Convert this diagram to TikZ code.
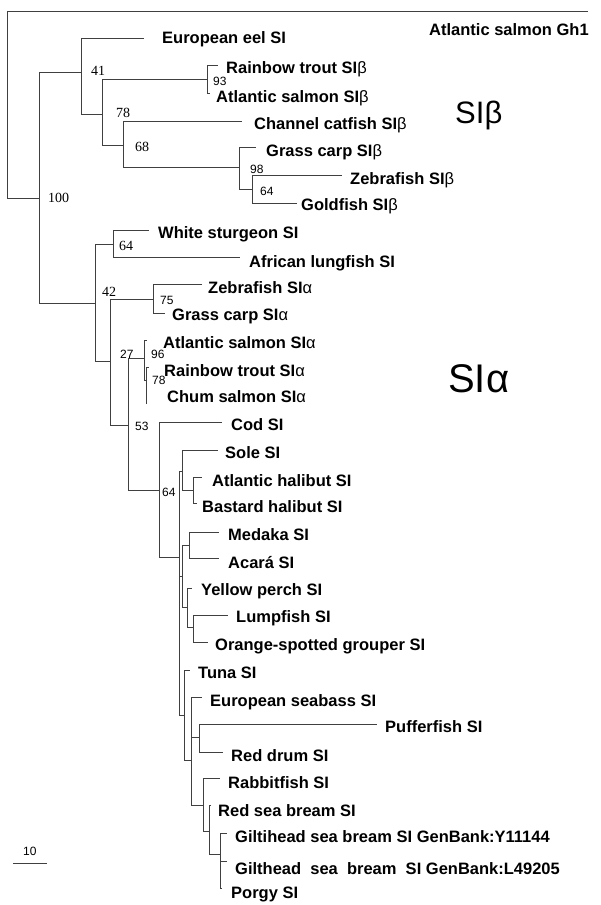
\documentclass[tikz,border=0pt]{standalone}
\usepackage{fontspec}
\setmainfont{Liberation Serif}
\setsansfont{Liberation Sans}
\newcommand{\grb}{{\mdseries β}}
\newcommand{\gra}{{\mdseries α}}
\tikzset{
  edge/.style={line width=.9pt, draw=black!75},
  leaf/.style={anchor=west, inner sep=0pt, text height=11.8pt, text depth=0pt,
    font=\sffamily\bfseries\fontsize{16.5}{16.5}\selectfont},
  bootrm/.style={anchor=west, inner sep=0pt, text height=9.5pt, text depth=0pt,
    font=\rmfamily\fontsize{14}{14}\selectfont},
  bootsf/.style={anchor=west, inner sep=0pt, text height=8.6pt, text depth=0pt,
    font=\sffamily\fontsize{12}{12}\selectfont},
}
\begin{document}
\begin{tikzpicture}[x=1pt, y=-1pt]
\useasboundingbox (0,0) rectangle (600,905);
\foreach \n/\x/\y in {root/7/105, gh1/588/11, n100/39/198, n41/81/72, eel/144/38,
  n78/102/114, n93/207/79, rtB/218/65, asB/210/93, n68/123/145, cat/242/121,
  n98/239/167, gcB/256/147, n64b/252/189, zfB/342/175, gold/297/203,
  nA/95/303, n64s/113/244, stur/149/230, lung/240/257, nB/110/361,
  n75/153/299, zfA/202/284, gcA/165/313, n27/128/425, n96/144/358, asA/147/340,
  n78a/146/380, rtA/149/367, chum/147/403, n53/159/490, cod/222/422,
  n64/179/557, nSole/182/471, sole/218/450, nHal/193/490, ahal/202/477, bhal/197/503,
  nMY/182/576, nMed/189/545, med/219/532, aca/219/558, nYP/187/607, yper/192/588,
  nLump/193/627, lump/228/615, osg/208/642, nTuna/184/715, tuna/190/670,
  nSea/191/760, sbass/202/697, nPuf/199/737, puf/377/724, rdrum/223/752,
  nRab/203/805, rabb/220/778, nRsb/209/831, rsb/211/805, nGilt/220/854,
  gilt1/227/833, gilt2/227/861, porgy/222/888, sbL/13/863, sbR/47/863}
  \coordinate (\n) at (\x,\y);
\foreach \a/\b in {root/gh1, root/n100, n100/n41, n41/eel, n41/n78, n78/n93,
  n93/rtB, n93/asB, n78/n68, n68/cat, n68/n98, n98/gcB, n98/n64b, n64b/zfB,
  n64b/gold, n100/nA, nA/n64s, n64s/stur, n64s/lung, nA/nB, nB/n75, n75/zfA,
  n75/gcA, nB/n27, n27/n96, n96/asA, n96/n78a, n78a/rtA, n78a/chum, n27/n53,
  n53/cod, n53/n64, n64/nSole, nSole/sole, nSole/nHal, nHal/ahal, nHal/bhal,
  n64/nMY, nMY/nMed, nMed/med, nMed/aca, nMY/nYP, nYP/yper, nYP/nLump,
  nLump/lump, nLump/osg, n64/nTuna, nTuna/tuna, nTuna/nSea, nSea/sbass,
  nSea/nPuf, nPuf/puf, nPuf/rdrum, nSea/nRab, nRab/rabb, nRab/nRsb, nRsb/rsb,
  nRsb/nGilt, nGilt/gilt1, nGilt/gilt2, nGilt/porgy}
  \draw[edge] (\a) |- (\b);
\draw[edge] (sbL) -- (sbR);
\foreach \n/\x/\y/\t in {gh1/429/30/Atlantic salmon Gh1, eel/162/38/European eel SI,
  rtB/226/68/Rainbow trout SI\grb, asB/216/97/Atlantic salmon SI\grb,
  cat/254/124/Channel catfish SI\grb, gcB/266/151/Grass carp SI\grb,
  zfB/350/179/Zebrafish SI\grb, gold/301/205/Goldfish SI\grb,
  stur/158/233/White sturgeon SI, lung/249/262/African lungfish SI,
  zfA/208/288/Zebrafish SI\gra, gcA/172/315/Grass carp SI\gra,
  asA/163/343/Atlantic salmon SI\gra, rtA/164/371/Rainbow trout SI\gra,
  chum/167/397/Chum salmon SI\gra, cod/231/425/Cod SI, sole/225/453/Sole SI,
  ahal/212/481/Atlantic halibut SI, bhal/202/507/Bastard halibut SI,
  med/228/535/Medaka SI, aca/228/563/Acará SI, yper/201/590/Yellow perch SI,
  lump/236/617/Lumpfish SI, osg/215/645/Orange-spotted grouper SI,
  tuna/198/673/Tuna SI, sbass/210/701/European seabass SI,
  puf/385/727/Pufferfish SI, rdrum/231/756/Red drum SI,
  rabb/228/783/Rabbitfish SI, rsb/218/811/Red sea bream SI,
  gilt1/235/837/Giltihead sea bream SI GenBank:Y11144,
  gilt2/235/869/Gilthead\ \ sea\ \ bream\ \ SI GenBank:L49205,
  porgy/231/893/Porgy SI}
  \node[leaf] (t-\n) at (\x,\y) {\t};
\foreach \n/\x/\y/\t in {b100/48/198/100, b41/91/71/41, b78/116/113/78,
  b68/135/147/68, b64s/119/246/64, b42/102/292/42}
  \node[bootrm] (\n) at (\x,\y) {\t};
\foreach \n/\x/\y/\t in {b93/213/81/93, b98/250/169/98, b64b/260/191/64,
  b75/160/300/75, b27/120/354/27, b96/151/354/96, b78a/152/380/78,
  b53/135/426/53, b64/162/492/64, scale/23/851/10}
  \node[bootsf] (\n) at (\x,\y) {\t};
\node[anchor=west, inner sep=0pt, text height=22.2pt, text depth=0pt,
  font=\sffamily\fontsize{31}{31}\selectfont] (cladeB) at (455,112) {SI\grb};
\node[anchor=west, inner sep=0pt, text height=28.6pt, text depth=0pt,
  font=\sffamily\fontsize{40}{40}\selectfont] (cladeA) at (448,378) {SI\gra};
\end{tikzpicture}
\end{document}
